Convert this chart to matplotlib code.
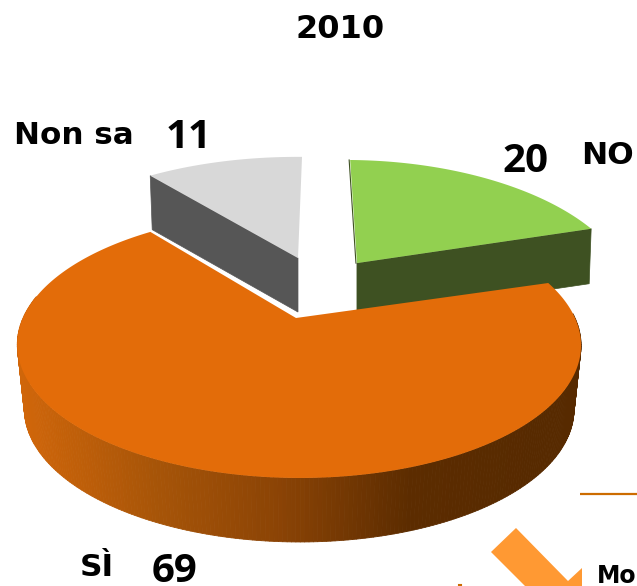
import numpy as np
import matplotlib
matplotlib.use('Agg')
import matplotlib.pyplot as plt
from matplotlib.patches import Polygon
from matplotlib.collections import PolyCollection
from matplotlib.colors import LinearSegmentedColormap

title = '2010'
labels = ['SÌ', 'NO', 'Non sa']
values = [69, 20, 11]

top_colors = ['#e36c09', '#92d050', '#d8d8d8']
wall_colors = ['#e36c09', '#3e5122', '#565656']
start_angle = 128.5

# per slice: explode in disk coords, x/y radius scale, wall depth
explode = [(0.0, 0.0), (0.242, 0.472), (0.008, 0.52)]
scale = [(1.0, 1.0), (1.05, 1.184), (1.11, 1.18)]
rim_shift = [(0.011, 0.0), (0.0, 0.0), (0.0, 0.0)]
depth = [64, 55, 54]

# perspective of the disk
TIP = (296.0, 318.0)
A, B, P = 276.0, 127.5, 0.203


def project(u, v):
    d = 1 + P * v
    return TIP[0] + A * u / d, TIP[1] - B * v / d


def slice_outline(a0, a1, i, n=120):
    t = np.radians(np.linspace(a0, a1, n))
    u = explode[i][0] + rim_shift[i][0] + scale[i][0] * np.cos(t)
    v = explode[i][1] + rim_shift[i][1] + scale[i][1] * np.sin(t)
    rx, ry = project(u, v)
    tx, ty = project(explode[i][0], explode[i][1])
    return (tx, ty), rx, ry


fig = plt.figure(figsize=(6.37, 5.86), dpi=100)
ax = fig.add_axes([0, 0, 1, 1])
ax.set_xlim(0, 637)
ax.set_ylim(586, 0)
ax.axis('off')

sweeps = np.array(values) * 3.6
a_start = [start_angle, start_angle + sweeps[0], start_angle + sweeps[0] + sweeps[1]]

# grey slice: wall is the cut edge that looks to the front
tip, rx, ry = slice_outline(a_start[2], a_start[2] + sweeps[2], 2)
d = depth[2]
ax.add_patch(Polygon([(rx[-1], ry[-1]), tip, (tip[0], tip[1] + d), (rx[-1] + 2, ry[-1] + d)],
                     fc=wall_colors[2], ec=wall_colors[2], lw=0.5, zorder=2))
ax.add_patch(Polygon(np.r_[[tip], np.c_[rx, ry]], fc=top_colors[2], ec='none', zorder=3))

# green slice
tip, rx, ry = slice_outline(a_start[1], a_start[1] + sweeps[1], 1)
d = depth[1]
ax.add_patch(Polygon([tip, (rx[0], ry[0]), (rx[0] - 2, ry[0] + d), (tip[0], tip[1] + d)],
                     fc=wall_colors[1], ec=wall_colors[1], lw=0.5, zorder=2))
ax.plot([tip[0] - 1, rx[-1] - 1], [tip[1], ry[-1]], color=wall_colors[1], lw=0.8, zorder=2)
ax.add_patch(Polygon(np.r_[[tip], np.c_[rx, ry]], fc=top_colors[1], ec='none', zorder=3))

# orange slice, the wall gets darker to the right
cmap = LinearSegmentedColormap.from_list('wall', ['#d0660a', '#a85508', '#8a4305', '#5c2c00', '#572a00'])
_, wx, wy = slice_outline(170, 362, 0, n=260)
d = depth[0]
bx = 299 + (wx - 299) * 0.975
by = wy + d
quads = [[(wx[k], wy[k]), (wx[k + 1], wy[k + 1]), (bx[k + 1], by[k + 1]), (bx[k], by[k])]
         for k in range(len(wx) - 1)]
cols = cmap(np.clip((wx[:-1] - 20) / 520.0, 0, 1))
ax.add_collection(PolyCollection(quads, facecolors=cols, edgecolors=cols, linewidths=0.6, zorder=4))

tip, rx, ry = slice_outline(a_start[0], a_start[0] + sweeps[0], 0, n=300)
ax.add_patch(Polygon(np.r_[[tip], np.c_[rx, ry]], fc=top_colors[0], ec='none', zorder=5))
ax.plot([tip[0], rx[0]], [tip[1], ry[0]], color='white', lw=0.9, zorder=4.5)

# texts
ax.text(340.5, 29, title, fontsize=23, fontweight='bold', family='DejaVu Sans', ha='center', va='center')
ax.text(14, 136, labels[2], fontsize=22.3, fontweight='bold', family='DejaVu Sans', ha='left', va='center')
ax.text(581, 155, labels[1], fontsize=22.5, fontweight='bold', family='DejaVu Sans', ha='left', va='center')
ax.text(80, 568, labels[0], fontsize=22.5, fontweight='bold', family='DejaVu Sans', ha='left', va='center')
ax.text(188.5, 137, str(values[2]), fontsize=29, fontweight='bold', family='Open Sans', ha='center', va='center')
ax.text(525.5, 162, str(values[1]), fontsize=29, fontweight='bold', family='Open Sans', ha='center', va='center')
ax.text(174.5, 571, str(values[0]), fontsize=29, fontweight='bold', family='Open Sans', ha='center', va='center')

# leftovers of the next slide, cut by the picture edge
ax.plot([580, 637], [494, 494], color='#cc6c00', lw=1.6, solid_capstyle='butt')
ax.add_patch(Polygon([(516, 528), (568, 581), (582, 568), (582, 600), (539, 600), (491, 552)],
                     fc='#ff9933', ec='none'))
ax.plot([459, 461], [585, 585], color='#cc6c00', lw=1.5)
ax.text(597, 576, 'Mo', fontsize=17, fontweight='bold', family='DejaVu Sans', ha='left', va='center',
        clip_on=True)

fig.savefig('out.png', dpi=100)
